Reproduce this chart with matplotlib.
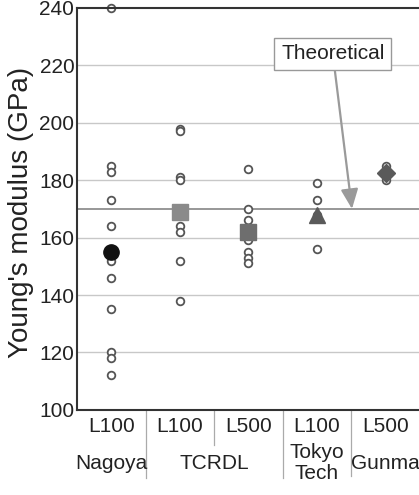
import matplotlib.pyplot as plt
import numpy as np

plt.rcParams['font.family'] = ['Liberation Sans', 'DejaVu Sans']

# column labels and group labels
cols = ["L100", "L100", "L500", "L100", "L500"]
groups = ["Nagoya", "TCRDL", "Tokyo\nTech", "Gunma"]
group_pos = [0, 1.5, 3, 4]

# individual measurements (GPa), one list per column
nagoya_l100 = [240, 185, 183, 173, 164, 152, 146, 135, 120, 118, 112]
tcrdl_l100 = [198, 197, 181, 180, 164, 162, 152, 138]
tcrdl_l500 = [184, 170, 166, 163, 161, 159, 155, 153, 151]
tokyo_l100 = [179, 173, 168, 156]
gunma_l500 = [185, 180]
points = [nagoya_l100, tcrdl_l100, tcrdl_l500, tokyo_l100, gunma_l500]

# averages per column
means = [155, 169, 162, 168, 182.5]
mean_markers = ['o', 's', 's', '^', 'D']
mean_colors = ['#111111', '#8a8a8a', '#6e6e6e', '#5a5a5a', '#5a5a5a']
mean_sizes = [11, 11, 11, 12, 9]

theoretical = 170

fig = plt.figure(figsize=(4.19, 4.95), dpi=100)
ax = fig.add_axes([0.184, 0.172, 0.818, 0.812])

for v in range(120, 240, 20):
    ax.axhline(v, color='#c8c8c8', lw=1.0, zorder=0)
ax.axhline(theoretical, color='#7a7a7a', lw=1.1, zorder=0)

for i, vals in enumerate(points):
    ax.plot([i] * len(vals), vals, 'o', mfc='white', mec='#555555',
            ms=5.5, mew=1.3, zorder=2, clip_on=False)
for i, m in enumerate(means):
    ax.plot(i, m, mean_markers[i], color=mean_colors[i], ms=mean_sizes[i],
            zorder=3)

ax.set_xlim(-0.5, 4.5)
ax.set_ylim(100, 240)
ax.set_yticks(range(100, 241, 20))
ax.set_xticks(range(5))
ax.set_xticklabels(cols)
ax.tick_params(length=0, labelsize=15, colors='#222222')
ax.tick_params(axis='x', pad=5)
ax.tick_params(axis='y', pad=2)

for s in ['left', 'bottom', 'top']:
    ax.spines[s].set_linewidth(1.5)
    ax.spines[s].set_color('#333333')
ax.spines['right'].set_visible(False)

ax.set_ylabel("Young's modulus (GPa)", fontsize=20, color='#222222')
ax.yaxis.set_label_coords(-0.165, 0.49)
ax.yaxis.label.set_va('center')

# separators below the axis
tr = ax.get_xaxis_transform()
for x, low in [(0.5, -0.17), (1.5, -0.087), (2.5, -0.17), (3.5, -0.165)]:
    ax.plot([x, x], [0, low], color='#aaaaaa', lw=0.9, transform=tr,
            clip_on=False)

for x, g in zip(group_pos, groups):
    ax.text(x, -0.133, g, transform=tr, ha='center', va='center',
            fontsize=15, color='#222222', linespacing=1.15)

ax.annotate("Theoretical", xy=(3.51, theoretical), xytext=(3.23, 224),
            fontsize=15, ha='center', va='center', color='#222222',
            bbox=dict(boxstyle='square,pad=0.32', fc='white', ec='#999999', lw=1),
            arrowprops=dict(arrowstyle='-|>,head_length=0.8,head_width=0.35',
                            color='#9a9a9a', lw=1.6, shrinkA=0, shrinkB=0))

fig.savefig("out.png", dpi=100)
